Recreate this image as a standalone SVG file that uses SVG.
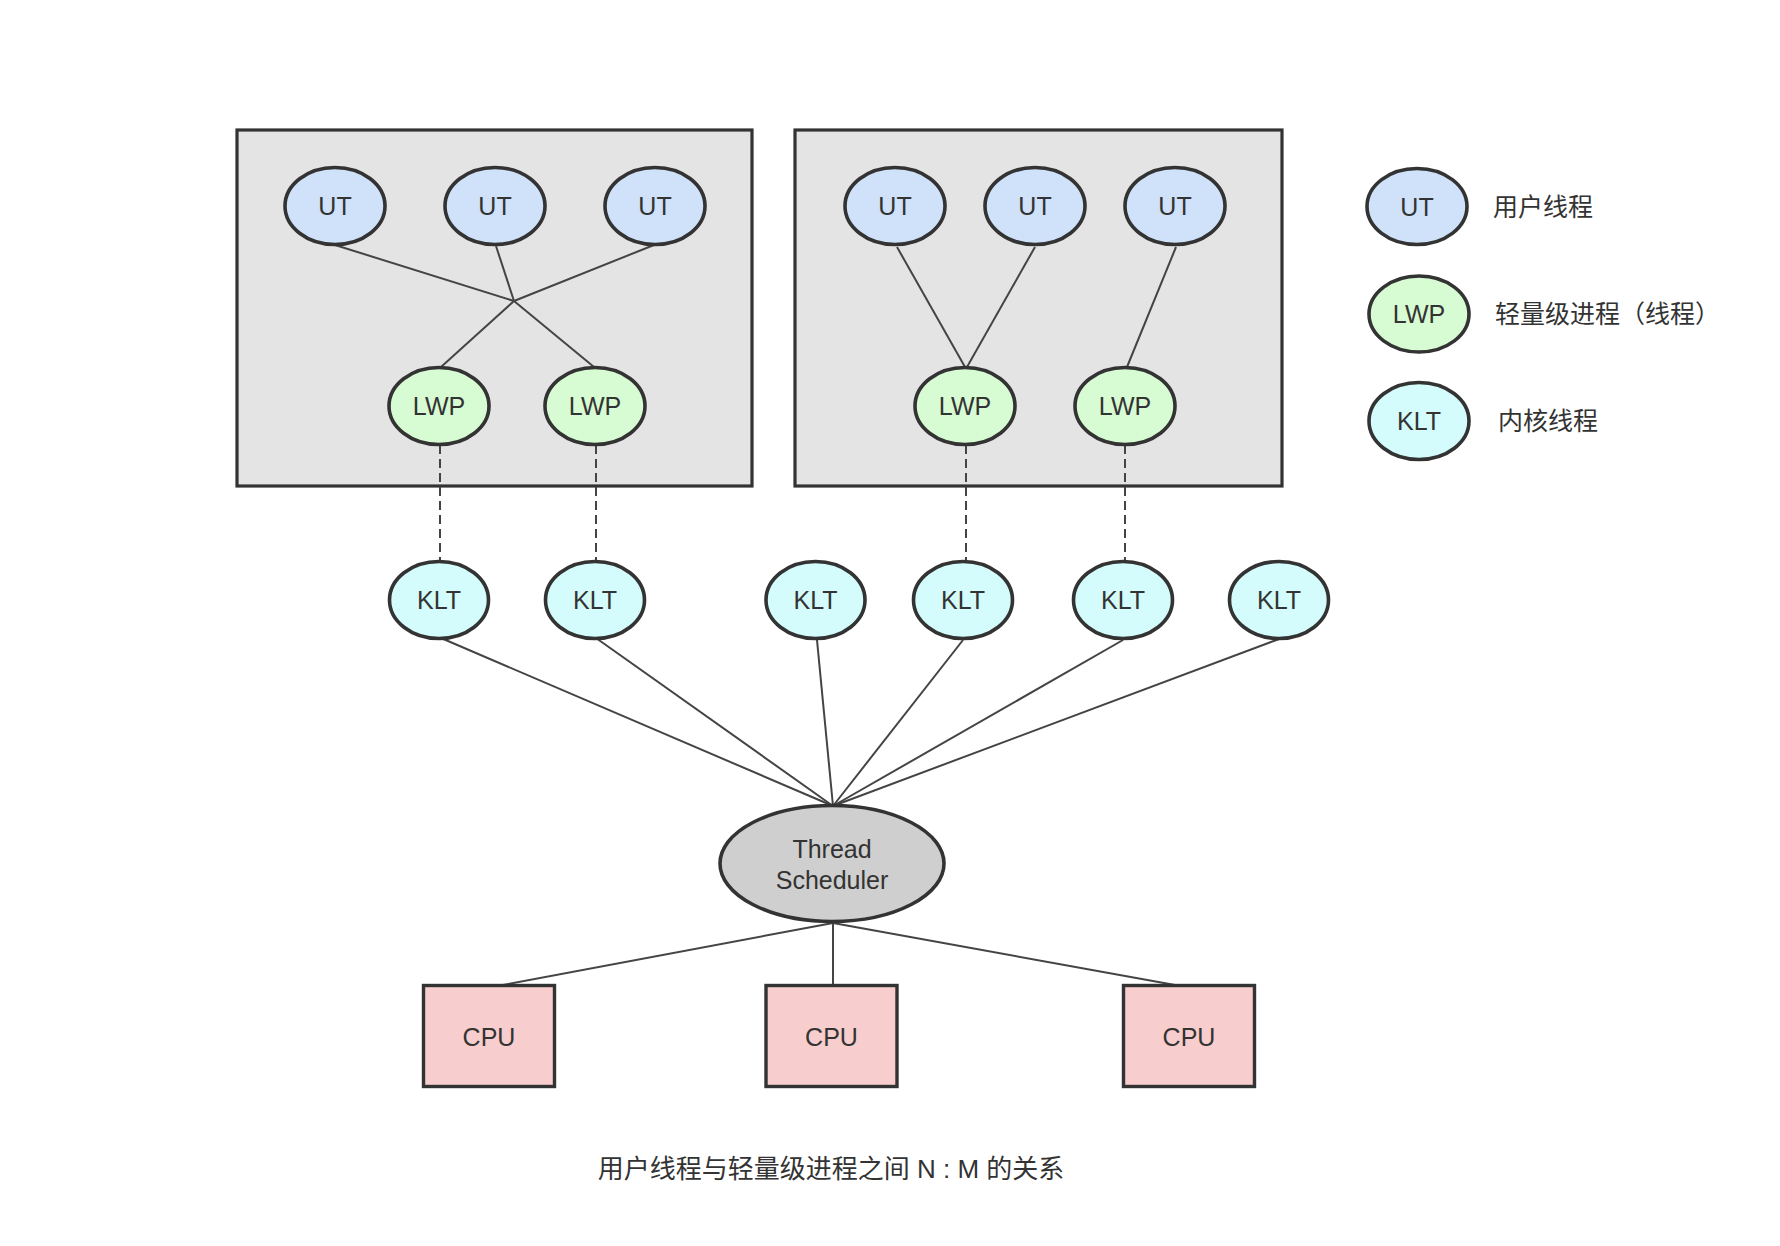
<svg xmlns="http://www.w3.org/2000/svg" width="1780" height="1246" viewBox="0 0 1780 1246">
<style>
.box{fill:#e4e4e4;stroke:#333;stroke-width:3.2}
.ut{fill:#cfe2f9;stroke:#333;stroke-width:3.6}
.lwp{fill:#d7fbd2;stroke:#333;stroke-width:3.6}
.klt{fill:#d4fcfc;stroke:#333;stroke-width:3.6}
.sch{fill:#cfcfcf;stroke:#333;stroke-width:3.6}
.cpu{fill:#f7cecd;stroke:#333;stroke-width:3.4}
.ln{stroke:#444;stroke-width:2;fill:none}
.dash{stroke:#444;stroke-width:2;fill:none;stroke-dasharray:9 5}
text{font-family:"Liberation Sans","Noto Sans CJK SC",sans-serif;fill:#333;font-size:25px}
.c{text-anchor:middle}
.cap{font-size:26px}
.leg{font-size:25px}
</style>
<rect width="1780" height="1246" fill="#ffffff"/>
<g id="process1"><rect class="box" x="237" y="130" width="515" height="356"/></g>
<g id="process2"><rect class="box" x="795" y="130" width="487" height="356"/></g>
<g id="connectors">
<line class="ln" x1="335" y1="245" x2="514" y2="301"/>
<line class="ln" x1="496" y1="246" x2="514" y2="301"/>
<line class="ln" x1="654" y1="245" x2="514" y2="301"/>
<line class="ln" x1="514" y1="301" x2="441" y2="367"/>
<line class="ln" x1="514" y1="301" x2="594" y2="367"/>
<line class="ln" x1="897" y1="247" x2="965" y2="367"/>
<line class="ln" x1="1035" y1="247" x2="967" y2="367"/>
<line class="ln" x1="1176" y1="247" x2="1127" y2="367"/>
<line class="dash" x1="440" y1="445" x2="440" y2="561"/>
<line class="dash" x1="596" y1="445" x2="596" y2="561"/>
<line class="dash" x1="966" y1="445" x2="966" y2="561"/>
<line class="dash" x1="1125" y1="445" x2="1125" y2="561"/>
<line class="ln" x1="441" y1="638" x2="833" y2="806"/>
<line class="ln" x1="596" y1="638" x2="833" y2="806"/>
<line class="ln" x1="817" y1="640" x2="833" y2="806"/>
<line class="ln" x1="963" y1="640" x2="833" y2="806"/>
<line class="ln" x1="1123" y1="640" x2="833" y2="806"/>
<line class="ln" x1="1279" y1="639" x2="833" y2="806"/>
<line class="ln" x1="833" y1="923" x2="503" y2="985"/>
<line class="ln" x1="833" y1="923" x2="833" y2="985"/>
<line class="ln" x1="833" y1="923" x2="1175" y2="985"/>
</g>
<g id="ut1"><ellipse class="ut" cx="335" cy="206" rx="50" ry="38.5"/><text class="c" x="335" y="215">UT</text></g>
<g id="ut2"><ellipse class="ut" cx="495" cy="206" rx="50" ry="38.5"/><text class="c" x="495" y="215">UT</text></g>
<g id="ut3"><ellipse class="ut" cx="655" cy="206" rx="50" ry="38.5"/><text class="c" x="655" y="215">UT</text></g>
<g id="ut4"><ellipse class="ut" cx="895" cy="206" rx="50" ry="38.5"/><text class="c" x="895" y="215">UT</text></g>
<g id="ut5"><ellipse class="ut" cx="1035" cy="206" rx="50" ry="38.5"/><text class="c" x="1035" y="215">UT</text></g>
<g id="ut6"><ellipse class="ut" cx="1175" cy="206" rx="50" ry="38.5"/><text class="c" x="1175" y="215">UT</text></g>
<g id="lwp1"><ellipse class="lwp" cx="439" cy="406" rx="50" ry="38.5"/><text class="c" x="439" y="415">LWP</text></g>
<g id="lwp2"><ellipse class="lwp" cx="595" cy="406" rx="50" ry="38.5"/><text class="c" x="595" y="415">LWP</text></g>
<g id="lwp3"><ellipse class="lwp" cx="965" cy="406" rx="50" ry="38.5"/><text class="c" x="965" y="415">LWP</text></g>
<g id="lwp4"><ellipse class="lwp" cx="1125" cy="406" rx="50" ry="38.5"/><text class="c" x="1125" y="415">LWP</text></g>
<g id="klt1"><ellipse class="klt" cx="439" cy="600" rx="49.5" ry="38.5"/><text class="c" x="439" y="609">KLT</text></g>
<g id="klt2"><ellipse class="klt" cx="595" cy="600" rx="49.5" ry="38.5"/><text class="c" x="595" y="609">KLT</text></g>
<g id="klt3"><ellipse class="klt" cx="815.5" cy="600" rx="49.5" ry="38.5"/><text class="c" x="815.5" y="609">KLT</text></g>
<g id="klt4"><ellipse class="klt" cx="963" cy="600" rx="49.5" ry="38.5"/><text class="c" x="963" y="609">KLT</text></g>
<g id="klt5"><ellipse class="klt" cx="1123" cy="600" rx="49.5" ry="38.5"/><text class="c" x="1123" y="609">KLT</text></g>
<g id="klt6"><ellipse class="klt" cx="1279" cy="600" rx="49.5" ry="38.5"/><text class="c" x="1279" y="609">KLT</text></g>
<g id="scheduler"><ellipse class="sch" cx="832" cy="863.5" rx="112" ry="58"/><text class="c" x="832" y="858">Thread</text><text class="c" x="832" y="889">Scheduler</text></g>
<g id="cpu1"><rect class="cpu" x="423.5" y="985.5" width="131" height="101"/><text class="c" x="489" y="1046">CPU</text></g>
<g id="cpu2"><rect class="cpu" x="766" y="985.5" width="131" height="101"/><text class="c" x="831.5" y="1046">CPU</text></g>
<g id="cpu3"><rect class="cpu" x="1123.5" y="985.5" width="131" height="101"/><text class="c" x="1189" y="1046">CPU</text></g>
<g id="legend-ut"><ellipse class="ut" cx="1417" cy="206.5" rx="50" ry="38"/><text class="c" x="1417" y="215.5">UT</text><text class="leg" x="1493" y="216">用户线程</text></g>
<g id="legend-lwp"><ellipse class="lwp" cx="1419" cy="314" rx="50" ry="38"/><text class="c" x="1419" y="323">LWP</text><text class="leg" x="1495" y="323">轻量级进程（线程）</text></g>
<g id="legend-klt"><ellipse class="klt" cx="1419" cy="421" rx="50" ry="38.5"/><text class="c" x="1419" y="430">KLT</text><text class="leg" x="1498" y="430">内核线程</text></g>
<g id="caption"><text class="c cap" x="831" y="1178">用户线程与轻量级进程之间 N : M 的关系</text></g>
</svg>
